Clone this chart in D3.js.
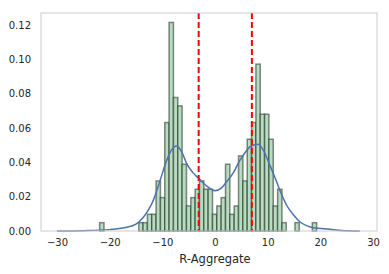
<!DOCTYPE html>
<html>
<head>
<meta charset="utf-8">
<script src="https://cdn.jsdelivr.net/npm/d3@7"></script>
<style>
  body { margin: 0; background: #fff; }
  text { font-family: "DejaVu Sans", sans-serif; fill: #262626; }
</style>
</head>
<body>
<script>
// histogram: 50 bins starting at binStart, counts
var binStart = -21.9;
var binWidth = 0.824;
var counts = [1,0,0,0,0,0,0,0,0,1,
              1,2,2,6,4,13,25,16,15,8,
              3,4,5,6,5,5,2,3,4,8,
              2,3,9,6,11,13,20,14,14,11,
              3,5,1,0,0,1,0,0,0,1];
// kde curve
var kdeX = [-30,-25,-20,-17,-15,-13.6,-12.5,-11.7,-10.4,-9.2,-8.3,-7.3,-6.3,-5.4,-4.2,-3.1,-1.5,0,1.2,2.2,3.5,4.7,5.8,6.6,7.5,8.2,9.2,10.4,11.4,12.3,13.6,15,16.1,17.5,18.7,21.8,24,27.5];
var kdeY = [0,0.0002,0.0008,0.002,0.004,0.008,0.013,0.018,0.0297,0.041,0.047,0.0495,0.046,0.0394,0.034,0.0307,0.026,0.0235,0.025,0.0287,0.034,0.041,0.046,0.049,0.0503,0.0505,0.047,0.0384,0.031,0.0239,0.015,0.009,0.0054,0.003,0.0019,0.001,0.0003,0];
var vlines = [-3.1, 7.0];
var xTicks = [-30,-20,-10,0,10,20,30];
var yTicks = [0,0.02,0.04,0.06,0.08,0.10,0.12];

var w = 389, h = 274;
var svg = d3.select("body").append("svg").attr("width", w).attr("height", h);

var x = d3.scaleLinear().domain([-33.04, 30.76]).range([41, 377]);
var y = d3.scaleLinear().domain([0, 0.127]).range([231, 13]);

var unit = 0.00486; // density of one count, as in the picture
var bins = counts.map(function(c, i) {
  return { x0: binStart + i * binWidth, x1: binStart + (i + 1) * binWidth, d: c * unit };
}).filter(function(b) { return b.d > 0; });

svg.append("g").selectAll("rect").data(bins).enter().append("rect")
  .attr("x", function(d) { return x(d.x0); })
  .attr("width", function(d) { return x(d.x1) - x(d.x0); })
  .attr("y", function(d) { return y(d.d); })
  .attr("height", function(d) { return y(0) - y(d.d); })
  .attr("fill", "#b8dcc0")
  .attr("stroke", "rgba(30,45,32,0.55)")
  .attr("stroke-width", 1.5);

var line = d3.line()
  .x(function(d) { return x(d[0]); })
  .y(function(d) { return y(d[1]); })
  .curve(d3.curveMonotoneX);
svg.append("path")
  .datum(d3.zip(kdeX, kdeY))
  .attr("d", line)
  .attr("fill", "none")
  .attr("stroke", "#4c72b0")
  .attr("stroke-width", 1.5);

svg.selectAll(".vl").data(vlines).enter().append("line")
  .attr("class", "vl")
  .attr("x1", function(d) { return x(d); }).attr("x2", function(d) { return x(d); })
  .attr("y1", 13).attr("y2", 231)
  .attr("stroke", "#ff0000")
  .attr("stroke-width", 2)
  .attr("stroke-dasharray", "6,3");

// frame
svg.append("rect")
  .attr("x", 41).attr("y", 13).attr("width", 336).attr("height", 218)
  .attr("fill", "none").attr("stroke", "#cccccc").attr("stroke-width", 1);

var xAxis = d3.axisBottom(x).tickValues(xTicks).tickSize(0).tickPadding(8)
  .tickFormat(function(d) { return d3.format("d")(d).replace("-", "\u2212"); });
var gx = svg.append("g").attr("transform", "translate(0,231)").call(xAxis);
gx.select(".domain").remove();
gx.selectAll("text").style("font-size", "10px").attr("fill", "#262626");

var yAxis = d3.axisLeft(y).tickValues(yTicks).tickSize(0).tickPadding(10)
  .tickFormat(d3.format(".2f"));
var gy = svg.append("g").attr("transform", "translate(41,0)").call(yAxis);
gy.select(".domain").remove();
gy.selectAll("text").style("font-size", "10px").attr("fill", "#262626");

svg.append("text")
  .attr("x", x(0)).attr("y", 263)
  .attr("text-anchor", "middle")
  .style("font-size", "11.5px")
  .text("R-Aggregate");
</script>
</body>
</html>
